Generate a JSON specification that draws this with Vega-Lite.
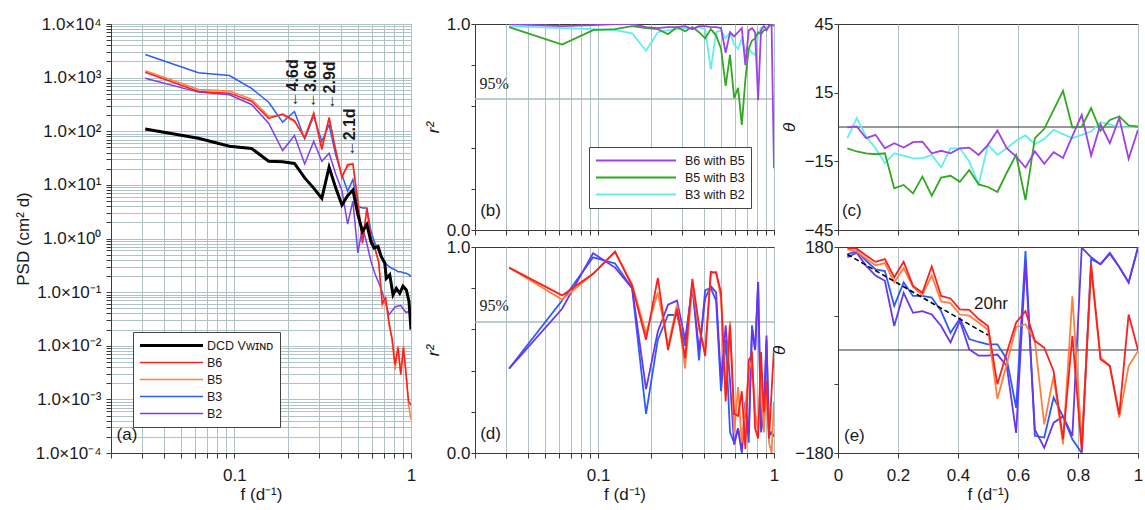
{
  "$schema": "https://vega.github.io/schema/vega-lite/v6.json",
  "padding": {"left": 13, "top": 14, "right": 1, "bottom": 2},
  "background": "white",
  "config": {
    "font": "Liberation Sans",
    "view": {"stroke": "#3a3a3a", "strokeWidth": 1},
    "axis": {"labelFont": "Liberation Sans", "titleFont": "Liberation Sans", "labelFontSize": 17, "titleFontSize": 17, "titleFontWeight": "normal", "labelColor": "#1a1a1a", "titleColor": "#1a1a1a", "domainColor": "#3a3a3a", "tickColor": "#3a3a3a", "gridColor": "#b0c2c6", "gridOpacity": 1, "gridWidth": 1, "tickSize": 5, "labelPadding": 3, "labelFlush": false, "labelOverlap": false},
    "legend": {"labelFont": "Liberation Sans", "labelColor": "#1a1a1a"},
    "text": {"font": "Liberation Sans", "color": "#1a1a1a"}
  },
  "datasets": {
    "psd": [
      {"f":0.03125,"B2":977,"B3":2692,"B5":1349,"B6":1259,"DCD":110},
      {"f":0.0625,"B2":537,"B3":1230,"B5":603,"B6":550,"DCD":74},
      {"f":0.09375,"B2":479,"B3":1096,"B5":562,"B6":513,"DCD":52.5},
      {"f":0.125,"B2":316,"B3":631,"B5":398,"B6":363,"DCD":47.9},
      {"f":0.15625,"B2":141,"B3":347,"B5":191,"B6":174,"DCD":27.5},
      {"f":0.1875,"B2":43.7,"B3":148,"B5":200,"B6":209,"DCD":26.9},
      {"f":0.21875,"B2":83,"B3":234,"B5":151,"B6":158,"DCD":25.1},
      {"f":0.25,"B2":24.5,"B3":72.4,"B5":79.4,"B6":74,"DCD":13.5},
      {"f":0.28125,"B2":65,"B3":190,"B5":209,"B6":219,"DCD":8.7},
      {"f":0.3125,"B2":27.5,"B3":64.6,"B5":50.1,"B6":45.7,"DCD":5.6},
      {"f":0.34375,"B2":38.9,"B3":131.8,"B5":174,"B6":182,"DCD":21.4},
      {"f":0.375,"B2":15.8,"B3":35.5,"B5":44.7,"B6":42.7,"DCD":8.7},
      {"f":0.40625,"B2":7.9,"B3":15.5,"B5":15,"B6":13.5,"DCD":4.2},
      {"f":0.4375,"B2":1.86,"B3":7.6,"B5":22,"B6":24,"DCD":6.3},
      {"f":0.46875,"B2":5.0,"B3":12.6,"B5":25,"B6":24.5,"DCD":8},
      {"f":0.5,"B2":0.54,"B3":3.98,"B5":5.25,"B6":4.9,"DCD":2.82},
      {"f":0.53125,"B2":1.6,"B3":3.72,"B5":0.89,"B6":0.81,"DCD":1.35},
      {"f":0.5625,"B2":0.8,"B3":3.72,"B5":3.55,"B6":3.7,"DCD":1.82},
      {"f":0.59375,"B2":0.37,"B3":1.35,"B5":1.0,"B6":1.02,"DCD":0.87},
      {"f":0.625,"B2":0.22,"B3":0.81,"B5":0.63,"B6":0.66},
      {"f":0.65625,"B2":0.15,"B3":0.575,"B5":0.355,"B6":0.37},
      {"f":0.6875,"B2":0.10,"B3":0.407,"B5":0.056,"B6":0.062},
      {"f":0.71875,"B2":0.06,"B3":0.339,"B5":0.071,"B6":0.078},
      {"f":0.75,"B2":0.038,"B3":0.302,"B5":0.025,"B6":0.028},
      {"f":0.78125,"B2":0.045,"B3":0.275,"B5":0.0126,"B6":0.0138},
      {"f":0.8125,"B2":0.053,"B3":0.263,"B5":0.00355,"B6":0.00447},
      {"f":0.84375,"B2":0.055,"B3":0.240,"B5":0.01,"B6":0.0091},
      {"f":0.875,"B2":0.056,"B3":0.240,"B5":0.00316,"B6":0.00288},
      {"f":0.90625,"B2":0.048,"B3":0.229,"B5":0.01,"B6":0.0091},
      {"f":0.9375,"B2":0.042,"B3":0.224,"B5":0.00316,"B6":0.00288},
      {"f":0.96875,"B2":0.043,"B3":0.214,"B5":0.00079,"B6":0.00091},
      {"f":1,"B2":0.043,"B3":0.195,"B5":0.000417,"B6":0.00079},
      {"f":0.618,"DCD":0.66},{"f":0.651,"DCD":0.71},{"f":0.677,"DCD":0.47},{"f":0.71,"DCD":0.35},
      {"f":0.725,"DCD":0.18},{"f":0.758,"DCD":0.21},{"f":0.791,"DCD":0.089},{"f":0.826,"DCD":0.117},
      {"f":0.863,"DCD":0.095},{"f":0.901,"DCD":0.129},{"f":0.941,"DCD":0.11},{"f":0.974,"DCD":0.068},{"f":0.9999,"DCD":0.02}
    ],
    "ann": [
      {"lab":"←4.6d","f":0.215,"v":279},
      {"lab":"←3.6d","f":0.272,"v":270},
      {"lab":"←2.9d","f":0.348,"v":255},
      {"lab":"←2.1d","f":0.451,"v":34}
    ],
    "coh": [
      {"f":0.03125,"B6 with B5":1.0,"B5 with B3":0.985,"B3 with B2":0.99},
      {"f":0.0625,"B6 with B5":0.99,"B5 with B3":0.90,"B3 with B2":0.98},
      {"f":0.09375,"B6 with B5":0.995,"B5 with B3":0.97,"B3 with B2":0.975},
      {"f":0.125,"B6 with B5":1.0,"B5 with B3":0.975,"B3 with B2":0.97},
      {"f":0.15625,"B6 with B5":1.0,"B5 with B3":0.99,"B3 with B2":0.955},
      {"f":0.1875,"B6 with B5":0.985,"B5 with B3":0.98,"B3 with B2":0.87},
      {"f":0.21875,"B6 with B5":0.98,"B5 with B3":0.975,"B3 with B2":0.96},
      {"f":0.25,"B6 with B5":0.985,"B5 with B3":0.95,"B3 with B2":0.97},
      {"f":0.28125,"B6 with B5":0.985,"B5 with B3":0.985,"B3 with B2":0.975},
      {"f":0.3125,"B6 with B5":0.99,"B5 with B3":0.965,"B3 with B2":0.98},
      {"f":0.34375,"B6 with B5":0.975,"B5 with B3":0.985,"B3 with B2":0.98},
      {"f":0.375,"B6 with B5":0.99,"B5 with B3":0.96,"B3 with B2":0.985},
      {"f":0.40625,"B6 with B5":0.99,"B5 with B3":0.93,"B3 with B2":0.975},
      {"f":0.4375,"B6 with B5":0.985,"B5 with B3":0.975,"B3 with B2":0.78},
      {"f":0.46875,"B6 with B5":0.985,"B5 with B3":0.945,"B3 with B2":0.96},
      {"f":0.5,"B6 with B5":0.98,"B5 with B3":0.88,"B3 with B2":0.97},
      {"f":0.53125,"B6 with B5":0.86,"B5 with B3":0.70,"B3 with B2":0.93},
      {"f":0.5625,"B6 with B5":0.96,"B5 with B3":0.85,"B3 with B2":0.96},
      {"f":0.59375,"B6 with B5":0.94,"B5 with B3":0.64,"B3 with B2":0.90},
      {"f":0.625,"B6 with B5":0.96,"B5 with B3":0.69,"B3 with B2":0.88},
      {"f":0.65625,"B6 with B5":0.98,"B5 with B3":0.51,"B3 with B2":0.93},
      {"f":0.6875,"B6 with B5":0.80,"B5 with B3":0.73,"B3 with B2":0.87},
      {"f":0.71875,"B6 with B5":0.97,"B5 with B3":0.88,"B3 with B2":0.88},
      {"f":0.75,"B6 with B5":0.98,"B5 with B3":0.92,"B3 with B2":0.86},
      {"f":0.78125,"B6 with B5":0.96,"B5 with B3":0.93,"B3 with B2":0.85},
      {"f":0.8125,"B6 with B5":0.63,"B5 with B3":0.96,"B3 with B2":0.95},
      {"f":0.84375,"B6 with B5":0.97,"B5 with B3":0.95,"B3 with B2":0.98},
      {"f":0.875,"B6 with B5":0.99,"B5 with B3":0.97,"B3 with B2":0.99},
      {"f":0.90625,"B6 with B5":0.97,"B5 with B3":0.97,"B3 with B2":0.98},
      {"f":0.9375,"B6 with B5":0.99,"B5 with B3":0.99,"B3 with B2":0.99},
      {"f":0.96875,"B6 with B5":1.0,"B5 with B3":1.0,"B3 with B2":0.995},
      {"f":0.9999,"B6 with B5":0.30,"B5 with B3":0.99,"B3 with B2":1.0}
    ],
    "phs": [
      {"f":0.03125,"B6 with B5":-0.2,"B5 with B3":-9.3,"B3 with B2":-4.9},
      {"f":0.0625,"B6 with B5":0.2,"B5 with B3":-10.7,"B3 with B2":3.9},
      {"f":0.09375,"B6 with B5":-4.9,"B5 with B3":-11.5,"B3 with B2":-4.2},
      {"f":0.125,"B6 with B5":-3.4,"B5 with B3":-11.9,"B3 with B2":-9.3},
      {"f":0.15625,"B6 with B5":-9.3,"B5 with B3":-11.5,"B3 with B2":-15.8},
      {"f":0.1875,"B6 with B5":-7.1,"B5 with B3":-26.8,"B3 with B2":-11.5},
      {"f":0.21875,"B6 with B5":-9.0,"B5 with B3":-25.3,"B3 with B2":-12.5},
      {"f":0.25,"B6 with B5":-6.6,"B5 with B3":-29.0,"B3 with B2":-13.7},
      {"f":0.28125,"B6 with B5":-6.4,"B5 with B3":-21.7,"B3 with B2":-13.7},
      {"f":0.3125,"B6 with B5":-11.5,"B5 with B3":-30.0,"B3 with B2":-12.2},
      {"f":0.34375,"B6 with B5":-10.4,"B5 with B3":-22.1,"B3 with B2":-17.6},
      {"f":0.375,"B6 with B5":-11.5,"B5 with B3":-21.3,"B3 with B2":-9.3},
      {"f":0.40625,"B6 with B5":-9.3,"B5 with B3":-23.9,"B3 with B2":-9.3},
      {"f":0.4375,"B6 with B5":-9.0,"B5 with B3":-18.8,"B3 with B2":-15.1},
      {"f":0.46875,"B6 with B5":-12.2,"B5 with B3":-25.1,"B3 with B2":-25.0},
      {"f":0.5,"B6 with B5":-7.8,"B5 with B3":-26.2,"B3 with B2":-7.8},
      {"f":0.53125,"B6 with B5":-1.5,"B5 with B3":-28.4,"B3 with B2":-12.2},
      {"f":0.5625,"B6 with B5":-9.3,"B5 with B3":-20,"B3 with B2":-9.3},
      {"f":0.59375,"B6 with B5":-12.9,"B5 with B3":-12.2,"B3 with B2":-6.0},
      {"f":0.625,"B6 with B5":-17.7,"B5 with B3":-31.9,"B3 with B2":-3.7},
      {"f":0.65625,"B6 with B5":-10.7,"B5 with B3":-4.9,"B3 with B2":-7.5},
      {"f":0.6875,"B6 with B5":-16.1,"B5 with B3":-0.8,"B3 with B2":-5.2},
      {"f":0.71875,"B6 with B5":-11.0,"B5 with B3":7.5,"B3 with B2":-1.2},
      {"f":0.75,"B6 with B5":-13.5,"B5 with B3":15.8,"B3 with B2":-3.1},
      {"f":0.78125,"B6 with B5":-4,"B5 with B3":-0.2,"B3 with B2":-4.9},
      {"f":0.8125,"B6 with B5":5.3,"B5 with B3":0.2,"B3 with B2":-3.4},
      {"f":0.84375,"B6 with B5":-12.5,"B5 with B3":8.2,"B3 with B2":-2.0},
      {"f":0.875,"B6 with B5":1.2,"B5 with B3":-1.7,"B3 with B2":2.1},
      {"f":0.90625,"B6 with B5":-7.1,"B5 with B3":3.1,"B3 with B2":1.2},
      {"f":0.9375,"B6 with B5":4.0,"B5 with B3":4.6,"B3 with B2":-0.2},
      {"f":0.96875,"B6 with B5":-13.9,"B5 with B3":0.7,"B3 with B2":-0.2},
      {"f":1,"B6 with B5":-1.2,"B5 with B3":0.2,"B3 with B2":0.2}
    ],
    "cohd": [
      {"f":0.03125,"B6":0.90,"B5":0.90,"B3":0.41,"B2":0.41},
      {"f":0.0625,"B6":0.765,"B5":0.745,"B3":0.74,"B2":0.70},
      {"f":0.09375,"B6":0.87,"B5":0.87,"B3":0.95,"B2":0.97},
      {"f":0.125,"B6":0.978,"B5":0.975,"B3":0.92,"B2":0.90},
      {"f":0.15625,"B6":0.81,"B5":0.82,"B3":0.80,"B2":0.80},
      {"f":0.1875,"B6":0.55,"B5":0.58,"B3":0.19,"B2":0.31},
      {"f":0.21875,"B6":0.85,"B5":0.78,"B3":0.55,"B2":0.59},
      {"f":0.25,"B6":0.50,"B5":0.52,"B3":0.67,"B2":0.72},
      {"f":0.28125,"B6":0.70,"B5":0.72,"B3":0.67,"B2":0.74},
      {"f":0.3125,"B6":0.46,"B5":0.41,"B3":0.52,"B2":0.55},
      {"f":0.34375,"B6":0.845,"B5":0.82,"B3":0.83,"B2":0.80},
      {"f":0.375,"B6":0.62,"B5":0.60,"B3":0.45,"B2":0.50},
      {"f":0.40625,"B6":0.47,"B5":0.50,"B3":0.79,"B2":0.75},
      {"f":0.4375,"B6":0.88,"B5":0.87,"B3":0.80,"B2":0.81},
      {"f":0.46875,"B6":0.875,"B5":0.88,"B3":0.74,"B2":0.78},
      {"f":0.5,"B6":0.78,"B5":0.75,"B3":0.30,"B2":0.35},
      {"f":0.53125,"B6":0.25,"B5":0.30,"B3":0.55,"B2":0.62},
      {"f":0.5625,"B6":0.62,"B5":0.64,"B3":0.10,"B2":0.35},
      {"f":0.59375,"B6":0.19,"B5":0.10,"B3":0.05,"B2":0.04},
      {"f":0.625,"B6":0.18,"B5":0.32,"B3":0.12,"B2":0.12},
      {"f":0.65625,"B6":0.30,"B5":0.05,"B3":0.00,"B2":0.01},
      {"f":0.6875,"B6":0.02,"B5":0.22,"B3":0.25,"B2":0.22},
      {"f":0.71875,"B6":0.45,"B5":0.40,"B3":0.05,"B2":0.10},
      {"f":0.75,"B6":0.48,"B5":0.45,"B3":0.62,"B2":0.60},
      {"f":0.78125,"B6":0.12,"B5":0.20,"B3":0.50,"B2":0.50},
      {"f":0.8125,"B6":0.07,"B5":0.10,"B3":0.83,"B2":0.83},
      {"f":0.84375,"B6":0.49,"B5":0.40,"B3":0.10,"B2":0.12},
      {"f":0.875,"B6":0.20,"B5":0.10,"B3":0.20,"B2":0.15},
      {"f":0.90625,"B6":0.35,"B5":0.30,"B3":0.55,"B2":0.57},
      {"f":0.9375,"B6":0.07,"B5":0.05,"B3":0.10,"B2":0.08},
      {"f":0.96875,"B6":0.30,"B5":0.00,"B3":0.10,"B2":0.10},
      {"f":0.9999,"B6":0.51,"B5":0.25,"B3":0.08,"B2":0.08}
    ],
    "phsd": [
      {"f":0.03125,"B6":178,"B5":176,"B3":167,"B2":162},
      {"f":0.0625,"B6":177,"B5":172,"B3":173,"B2":170},
      {"f":0.09375,"B6":165,"B5":160,"B3":156,"B2":147},
      {"f":0.125,"B6":154,"B5":148,"B3":141,"B2":130},
      {"f":0.15625,"B6":159,"B5":152,"B3":138,"B2":121},
      {"f":0.1875,"B6":127,"B5":118,"B3":77,"B2":42},
      {"f":0.21875,"B6":154,"B5":143,"B3":118,"B2":100},
      {"f":0.25,"B6":112,"B5":110,"B3":94.5,"B2":65},
      {"f":0.28125,"B6":100,"B5":96,"B3":94.5,"B2":68},
      {"f":0.3125,"B6":146,"B5":130,"B3":91.6,"B2":62},
      {"f":0.34375,"B6":94.5,"B5":85,"B3":68,"B2":42},
      {"f":0.375,"B6":90,"B5":82,"B3":30,"B2":13},
      {"f":0.40625,"B6":71,"B5":62,"B3":55,"B2":51},
      {"f":0.4375,"B6":70,"B5":60,"B3":19,"B2":1},
      {"f":0.46875,"B6":54,"B5":48,"B3":14,"B2":-10},
      {"f":0.5,"B6":42,"B5":35,"B3":10,"B2":-10},
      {"f":0.53125,"B6":-60,"B5":-85,"B3":10,"B2":-8},
      {"f":0.5625,"B6":-5,"B5":-25,"B3":-16,"B2":-28},
      {"f":0.59375,"B6":48,"B5":40,"B3":-101,"B2":-145},
      {"f":0.625,"B6":68,"B5":45,"B3":173,"B2":153},
      {"f":0.65625,"B6":16,"B5":15,"B3":-150,"B2":-139},
      {"f":0.6875,"B6":4,"B5":-130,"B3":-153,"B2":-171},
      {"f":0.71875,"B6":-37,"B5":-45,"B3":-83,"B2":-127},
      {"f":0.75,"B6":-156,"B5":-165,"B3":-116,"B2":-116},
      {"f":0.78125,"B6":24.5,"B5":94,"B3":-156,"B2":-150},
      {"f":0.8125,"B6":-177,"B5":-162,"B3":-180,"B2":179},
      {"f":0.84375,"B6":150,"B5":140,"B3":159,"B2":162},
      {"f":0.875,"B6":-16,"B5":-13,"B3":150,"B2":150},
      {"f":0.90625,"B6":-28,"B5":-28,"B3":168,"B2":170},
      {"f":0.9375,"B6":-113,"B5":-118,"B3":145,"B2":145},
      {"f":0.96875,"B6":62,"B5":-28,"B3":118,"B2":118},
      {"f":1,"B6":0,"B5":-2,"B3":179,"B2":179}
    ],
    "lag": [{"f":0.03125,"t":167},{"f":0.5,"t":26}]
  },
  "hconcat": [
    {
      "hconcat": [
        {
          "width": 300,
          "height": 429,
          "layer": [
            {
              "data": {"name": "psd"},
              "transform": [
                {"fold": ["B2","B3","B5","B6","DCD"], "as": ["s","v"]},
                {"filter": "isValid(datum.v)"}
              ],
              "mark": {"type": "line", "clip": true},
              "encoding": {
                "x": {"field": "f", "type": "quantitative", "scale": {"type": "log", "domain": [0.02, 1], "nice": false},
                  "axis": {"values": [0.02,0.03,0.04,0.05,0.06,0.07,0.08,0.09,0.1,0.2,0.3,0.4,0.5,0.6,0.7,0.8,0.9,1], "labelExpr": "datum.value == 0.1 ? '0.1' : (datum.value == 1 ? '1' : '')", "grid": true, "title": "f (d⁻¹)", "labelPadding": 9, "titlePadding": 3}},
                "y": {"field": "v", "type": "quantitative", "scale": {"type": "log", "domain": [0.0001, 10000], "nice": false},
                  "axis": {"values": [0.0001,0.0002,0.0003,0.0004,0.0005,0.0006,0.0007,0.0008,0.0009,0.001,0.002,0.003,0.004,0.005,0.006,0.007,0.008,0.009,0.01,0.02,0.03,0.04,0.05,0.06,0.07,0.08,0.09,0.1,0.2,0.3,0.4,0.5,0.6,0.7,0.8,0.9,1,2,3,4,5,6,7,8,9,10,20,30,40,50,60,70,80,90,100,200,300,400,500,600,700,800,900,1000,2000,3000,4000,5000,6000,7000,8000,9000,10000],
                    "labelExpr": "abs(log(datum.value)/LN10 - round(log(datum.value)/LN10)) < 0.01 ? '1.0×10' + ['⁻⁴','⁻³','⁻²','⁻¹','⁰','¹','²','³','⁴'][round(log(datum.value)/LN10) + 4] : ''",
                    "grid": true, "title": "PSD (cm² d)", "labelPadding": 5, "titlePadding": 3}},
                "color": {"field": "s", "type": "nominal",
                  "scale": {"domain": ["DCD","B6","B5","B3","B2"], "range": ["#000000","#ff1e1e","#ff7f3f","#2b5bff","#7b3ff0"]},
                  "legend": {"orient": "none", "legendX": 22, "legendY": 308, "title": null, "strokeColor": "#444", "fillColor": "#ffffff", "padding": 6, "symbolType": "stroke", "symbolSize": 3969, "clipHeight": 15, "rowPadding": 2, "labelFontSize": 12.5, "labelOffset": 3,
                    "labelExpr": "datum.label == 'DCD' ? 'DCD Vᴡɪɴᴅ' : datum.label",
                    "encode": {"symbols": {"update": {"strokeWidth": {"signal": "(datum.value == 'DCD' ? 3 : 1.6)"}}}}}},
                "strokeWidth": {"condition": {"test": "datum.s == 'DCD'", "value": 3}, "value": 1.5}
              }
            },
            {
              "data": {"name": "ann"},
              "mark": {"type": "text", "angle": 270, "align": "left", "baseline": "middle", "fontSize": 16, "fontWeight": "bold"},
              "encoding": {
                "x": {"field": "f", "type": "quantitative"},
                "y": {"field": "v", "type": "quantitative"},
                "text": {"field": "lab"}
              }
            },
            {
              "data": {"values": [{}]},
              "mark": {"type": "text", "text": "(a)", "fontSize": 17, "align": "left", "baseline": "bottom"},
              "encoding": {"x": {"datum": 0.0215}, "y": {"datum": 0.000145}}
            }
          ]
        },
        {
          "vconcat": [
            {
              "width": 299,
              "height": 206,
              "layer": [
                {
                  "data": {"values": [{}]},
                  "mark": {"type": "rule", "color": "#a8babe", "strokeWidth": 1.5},
                  "encoding": {"y": {"datum": 0.636, "type": "quantitative", "scale": {"domain": [0, 1], "nice": false}}}
                },
                {
                  "data": {"name": "coh"},
                  "transform": [{"fold": ["B3 with B2","B5 with B3","B6 with B5"], "as": ["s","v"]}],
                  "mark": {"type": "line", "strokeWidth": 1.8, "clip": true},
                  "encoding": {
                    "x": {"field": "f", "type": "quantitative", "scale": {"type": "log", "domain": [0.02, 1], "nice": false},
                      "axis": {"values": [0.02,0.03,0.04,0.05,0.06,0.07,0.08,0.09,0.1,0.2,0.3,0.4,0.5,0.6,0.7,0.8,0.9,1], "labels": false, "grid": true, "title": null}},
                    "y": {"field": "v", "type": "quantitative", "scale": {"domain": [0, 1], "nice": false},
                      "axis": {"values": [0,0.1,0.2,0.3,0.4,0.5,0.6,0.7,0.8,0.9,1], "labelExpr": "round(datum.value*10) % 5 == 0 ? format(datum.value, '.1f') : ''", "grid": false, "title": "r²", "titleFontStyle": "italic", "tickSize": 4, "labelPadding": 1, "titlePadding": 4}},
                    "color": {"field": "s", "type": "nominal",
                      "scale": {"domain": ["B6 with B5","B5 with B3","B3 with B2"], "range": ["#a040e8","#30a820","#60eeee"]},
                      "legend": {"orient": "none", "legendX": 114, "legendY": 123, "title": null, "strokeColor": "#444", "fillColor": "#ffffff", "padding": 6, "symbolType": "stroke", "symbolSize": 6400, "symbolStrokeWidth": 1.8, "clipHeight": 15, "rowPadding": 2, "labelFontSize": 12.5, "labelOffset": 8}}
                  }
                },
                {
                  "data": {"values": [{}]},
                  "mark": {"type": "text", "text": "95%", "font": "Liberation Serif", "fontSize": 16, "align": "left", "baseline": "bottom"},
                  "encoding": {"x": {"datum": 0.0212}, "y": {"datum": 0.668}}
                },
                {
                  "data": {"values": [{}]},
                  "mark": {"type": "text", "text": "(b)", "fontSize": 17, "align": "left", "baseline": "bottom"},
                  "encoding": {"x": {"datum": 0.0214}, "y": {"datum": 0.05}}
                }
              ]
            },
            {
              "width": 299,
              "height": 206,
              "layer": [
                {
                  "data": {"values": [{}]},
                  "mark": {"type": "rule", "color": "#a8babe", "strokeWidth": 1.5},
                  "encoding": {"y": {"datum": 0.636, "type": "quantitative", "scale": {"domain": [0, 1], "nice": false}}}
                },
                {
                  "data": {"name": "cohd"},
                  "transform": [{"fold": ["B3","B2","B5","B6"], "as": ["s","v"]}],
                  "mark": {"type": "line", "strokeWidth": 1.8, "clip": true},
                  "encoding": {
                    "x": {"field": "f", "type": "quantitative", "scale": {"type": "log", "domain": [0.02, 1], "nice": false},
                      "axis": {"values": [0.02,0.03,0.04,0.05,0.06,0.07,0.08,0.09,0.1,0.2,0.3,0.4,0.5,0.6,0.7,0.8,0.9,1], "labelExpr": "datum.value == 0.1 ? '0.1' : (datum.value == 1 ? '1' : '')", "grid": true, "title": "f (d⁻¹)", "labelPadding": 9, "titlePadding": 3}},
                    "y": {"field": "v", "type": "quantitative", "scale": {"domain": [0, 1], "nice": false},
                      "axis": {"values": [0,0.1,0.2,0.3,0.4,0.5,0.6,0.7,0.8,0.9,1], "labelExpr": "round(datum.value*10) % 5 == 0 ? format(datum.value, '.1f') : ''", "grid": false, "title": "r²", "titleFontStyle": "italic", "tickSize": 4, "labelPadding": 1, "titlePadding": 4}},
                    "color": {"field": "s", "type": "nominal",
                      "scale": {"domain": ["B6","B5","B3","B2"], "range": ["#ff1e1e","#ff7f3f","#2b5bff","#6a35ee"]},
                      "legend": null}
                  }
                },
                {
                  "data": {"values": [{}]},
                  "mark": {"type": "text", "text": "95%", "font": "Liberation Serif", "fontSize": 16, "align": "left", "baseline": "bottom"},
                  "encoding": {"x": {"datum": 0.0212}, "y": {"datum": 0.676}}
                },
                {
                  "data": {"values": [{}]},
                  "mark": {"type": "text", "text": "(d)", "fontSize": 17, "align": "left", "baseline": "bottom"},
                  "encoding": {"x": {"datum": 0.0214}, "y": {"datum": 0.05}}
                }
              ]
            }
          ],
          "spacing": 17,
          "bounds": "flush",
          "resolve": {"scale": {"x": "independent", "y": "independent", "color": "independent"}, "legend": {"color": "independent"}}
        }
      ],
      "spacing": 6,
      "bounds": "full",
      "align": "none",
      "resolve": {"scale": {"x": "independent", "y": "independent", "color": "independent"}, "legend": {"color": "independent"}}
    },
    {
      "vconcat": [
        {
          "width": 300,
          "height": 206,
          "layer": [
            {
              "data": {"values": [{}]},
              "mark": {"type": "rule", "color": "#333333", "strokeWidth": 1.2},
              "encoding": {"y": {"datum": 0, "type": "quantitative", "scale": {"domain": [-45, 45], "nice": false}}}
            },
            {
              "data": {"name": "phs"},
              "transform": [{"fold": ["B3 with B2","B5 with B3","B6 with B5"], "as": ["s","v"]}],
              "mark": {"type": "line", "strokeWidth": 1.8, "clip": true},
              "encoding": {
                "x": {"field": "f", "type": "quantitative", "scale": {"domain": [0, 1], "nice": false},
                  "axis": {"values": [0,0.1,0.2,0.3,0.4,0.5,0.6,0.7,0.8,0.9,1], "labels": false, "grid": true, "title": null}},
                "y": {"field": "v", "type": "quantitative", "scale": {"domain": [-45, 45], "nice": false},
                  "axis": {"values": [-45,-30,-15,0,15,30,45], "format": "d", "grid": false, "title": "θ", "titleFontStyle": "italic", "tickSize": 4, "labelPadding": 1, "titlePadding": 6}},
                "color": {"field": "s", "type": "nominal",
                  "scale": {"domain": ["B6 with B5","B5 with B3","B3 with B2"], "range": ["#a040e8","#30a820","#60eeee"]},
                  "legend": null}
              }
            },
            {
              "data": {"values": [{}]},
              "mark": {"type": "text", "text": "(c)", "fontSize": 17, "align": "left", "baseline": "bottom"},
              "encoding": {"x": {"datum": 0.013}, "y": {"datum": -40.5}}
            }
          ]
        },
        {
          "width": 300,
          "height": 206,
          "layer": [
            {
              "data": {"values": [{}]},
              "mark": {"type": "rule", "color": "#333333", "strokeWidth": 1.2},
              "encoding": {"y": {"datum": 0, "type": "quantitative", "scale": {"domain": [-180, 180], "nice": false}}}
            },
            {
              "data": {"name": "phsd"},
              "transform": [{"fold": ["B3","B2","B5","B6"], "as": ["s","v"]}],
              "mark": {"type": "line", "strokeWidth": 1.8, "clip": true},
              "encoding": {
                "x": {"field": "f", "type": "quantitative", "scale": {"domain": [0, 1], "nice": false},
                  "axis": {"values": [0,0.1,0.2,0.3,0.4,0.5,0.6,0.7,0.8,0.9,1], "labelExpr": "round(datum.value*10) % 2 == 0 ? format(datum.value, '~g') : ''", "grid": true, "title": "f (d⁻¹)", "labelPadding": 9, "titlePadding": 3}},
                "y": {"field": "v", "type": "quantitative", "scale": {"domain": [-180, 180], "nice": false},
                  "axis": {"values": [-180,-150,-120,-90,-60,-30,0,30,60,90,120,150,180], "labelExpr": "round(datum.value) % 90 == 0 ? format(datum.value, 'd') : ''", "grid": false, "title": "θ", "titleFontStyle": "italic", "tickSize": 4, "labelPadding": 1, "titlePadding": 6}},
                "color": {"field": "s", "type": "nominal",
                  "scale": {"domain": ["B6","B5","B3","B2"], "range": ["#ff1e1e","#ff7f3f","#2b5bff","#6a35ee"]},
                  "legend": null}
              }
            },
            {
              "data": {"name": "lag"},
              "mark": {"type": "line", "color": "#000000", "strokeWidth": 1.6, "strokeDash": [5, 3]},
              "encoding": {"x": {"field": "f", "type": "quantitative"}, "y": {"field": "t", "type": "quantitative"}}
            },
            {
              "data": {"values": [{}]},
              "mark": {"type": "text", "text": "20hr", "fontSize": 17, "align": "center", "baseline": "middle"},
              "encoding": {"x": {"datum": 0.51}, "y": {"datum": 80}}
            },
            {
              "data": {"values": [{}]},
              "mark": {"type": "text", "text": "(e)", "fontSize": 17, "align": "left", "baseline": "bottom"},
              "encoding": {"x": {"datum": 0.02}, "y": {"datum": -166}}
            }
          ]
        }
      ],
      "spacing": 17,
      "bounds": "flush",
      "resolve": {"scale": {"x": "independent", "y": "independent", "color": "independent"}, "legend": {"color": "independent"}}
    }
  ],
  "spacing": -10,
  "bounds": "full",
  "align": "none",
  "resolve": {"scale": {"x": "independent", "y": "independent", "color": "independent"}, "legend": {"color": "independent"}}
}
